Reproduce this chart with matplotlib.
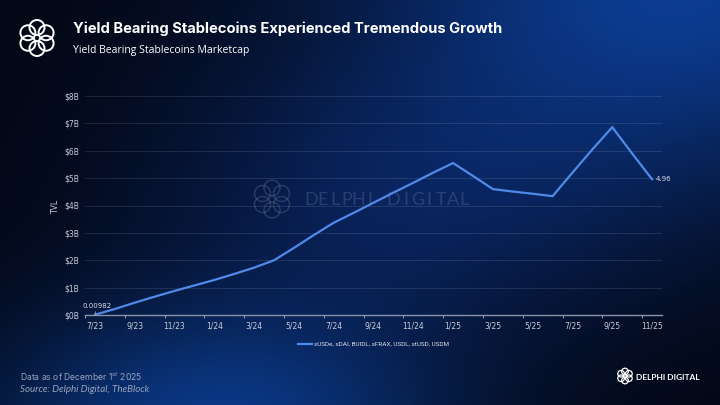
import numpy as np
import matplotlib
matplotlib.use('Agg')
from matplotlib import pyplot as plt
from matplotlib.patches import Circle

# monthly categories 7/23 .. 11/25
months = ['7/23', '8/23', '9/23', '10/23', '11/23', '12/23',
          '1/24', '2/24', '3/24', '4/24', '5/24', '6/24',
          '7/24', '8/24', '9/24', '10/24', '11/24', '12/24',
          '1/25', '2/25', '3/25', '4/25', '5/25', '6/25',
          '7/25', '8/25', '9/25', '10/25', '11/25']
tvl = [0.00982, 0.22, 0.45, 0.67, 0.88, 1.08,
       1.28, 1.50, 1.73, 2.00, 2.45, 2.92,
       3.37, 3.73, 4.10, 4.47, 4.83, 5.20,
       5.55, 5.08, 4.60, 4.51, 4.43, 4.34,
       5.20, 6.05, 6.86, 5.90, 4.96]
series_name = 'sUSDe, sDAI, BUIDL, sFRAX, USDL, stUSD, USDM'
y_ticks = [0, 1, 2, 3, 4, 5, 6, 7, 8]

W, H = 720, 405


def background():
    yy, xx = np.mgrid[0:H, 0:W]
    u = xx / W
    v = yy / H
    dark = np.array([3, 7, 20]) / 255
    blobs = [
        ((0.95, -0.05), (0.45, 0.50), (12, 60, 145)),
        ((0.30, 1.05), (0.32, 0.30), (10, 55, 130)),
        ((0.55, 0.50), (0.35, 0.35), (8, 28, 75)),
    ]
    img = np.ones((H, W, 3)) * dark
    for (cx, cy), (sx, sy), col in blobs:
        w = np.exp(-(((u - cx) / sx) ** 2 + ((v - cy) / sy) ** 2))
        img += w[..., None] * (np.array(col) / 255 - dark)
    return np.clip(img, 0, 1)


def logo(ax, cx, cy, R, r, color, lw, alpha=1.0):
    for k in range(6):
        a = np.pi / 2 + k * np.pi / 3
        ax.add_patch(Circle((cx + R * np.cos(a), cy + R * np.sin(a)), r,
                            fill=False, ec=color, lw=lw, alpha=alpha))


def spaced_text(ax, x0, y, s, step, **kw):
    for i, ch in enumerate(s):
        ax.text(x0 + i * step, y, ch, ha='center', va='center', **kw)


fig = plt.figure(figsize=(7.2, 4.05), dpi=100)

bg = fig.add_axes([0, 0, 1, 1], zorder=-1)
bg.imshow(background(), extent=[0, W, H, 0], aspect='auto')
bg.set_xlim(0, W)
bg.set_ylim(H, 0)
bg.axis('off')

# logos
logo(bg, 37, 38, 10.5, 7.5, 'white', 1.4)
logo(bg, 272, 199, 11, 8, '#7a84a0', 1.1, alpha=0.3)
spaced_text(bg, 311, 200, 'DELPHI DIGITAL', 11.8, color='#7a84a0',
            alpha=0.3, fontsize=13, family='Lato')
logo(bg, 625, 376, 4.5, 3.3, 'white', 0.9)
bg.text(636, 377, 'DELPHI DIGITAL', color='white', fontsize=6, fontweight='bold',
        family='Lato', va='center', ha='left')

# titles and footer
bg.text(73, 29, 'Yield Bearing Stablecoins Experienced Tremendous Growth',
        color='white', fontsize=10.6, fontweight='bold', family='Inter',
        va='center', ha='left')
bg.text(73, 51, 'Yield Bearing Stablecoins Marketcap', color='white',
        fontsize=7.5, family='Open Sans', va='center', ha='left')
bg.text(20, 377, 'Data as of December 1$^{st}$ 2025', color='#98a2bc',
        fontsize=6.2, family='Inter', va='center', ha='left')
bg.text(20, 389, 'Source: Delphi Digital, TheBlock', color='#98a2bc',
        fontsize=7, family='Lato', style='italic', va='center', ha='left')

# main chart
ax = fig.add_axes([85 / W, 1 - 315 / H, (662 - 85) / W, (315 - 96) / H])
ax.set_facecolor('none')
x = np.arange(len(months))
ax.plot(x, tvl, color='#4f8ae8', lw=1.6, label=series_name, zorder=3,
        solid_joinstyle='miter')

ax.set_xlim(-0.5, len(months) - 0.5)
ax.set_ylim(0, 8)
ax.set_yticks(y_ticks)
ax.set_yticklabels([f'${t}B' for t in y_ticks])
ax.tick_params(axis='y', length=0, labelsize=5.5, labelcolor='#c8cdd8', pad=4)

ax.set_xticks(np.arange(-0.5, len(months) - 1, 2))
ax.set_xticklabels([])
ax.tick_params(axis='x', which='major', length=2.5, color='#8a93a8', width=0.8)
ax.set_xticks(x[::2], minor=True)
ax.set_xticklabels(months[::2], minor=True)
ax.tick_params(axis='x', which='minor', length=0, labelsize=5.5,
               labelcolor='#c8cdd8', pad=5)

for s in ['top', 'right', 'left']:
    ax.spines[s].set_visible(False)
ax.spines['bottom'].set_color('#8a93a8')
ax.spines['bottom'].set_linewidth(1.0)
ax.grid(axis='y', color='white', alpha=0.1, lw=0.8)
ax.set_axisbelow(True)

ax.set_ylabel('TVL', color='#c8cdd8', fontsize=5.5, labelpad=3)

# data labels
ax.annotate(f'{tvl[0]:.5f}', xy=(x[0], tvl[0]), xytext=(x[0] - 0.65, 0.33),
            color='#d8dce6', fontsize=5, va='center', ha='left',
            arrowprops=dict(arrowstyle='-', color='#a0a8b8', lw=0.6,
                            shrinkA=0, shrinkB=0))
ax.text(x[-1] + 0.2, tvl[-1], f'{tvl[-1]:.2f}', color='#d8dce6', fontsize=5,
        va='center', ha='left')

leg = ax.legend(loc='upper center', bbox_to_anchor=(0.5, -0.095), frameon=False,
                prop={'family': 'Roboto', 'size': 4.6}, handlelength=2.2,
                handletextpad=0.2)
for t in leg.get_texts():
    t.set_color('#d8dce6')

fig.savefig('out.png', dpi=100)
